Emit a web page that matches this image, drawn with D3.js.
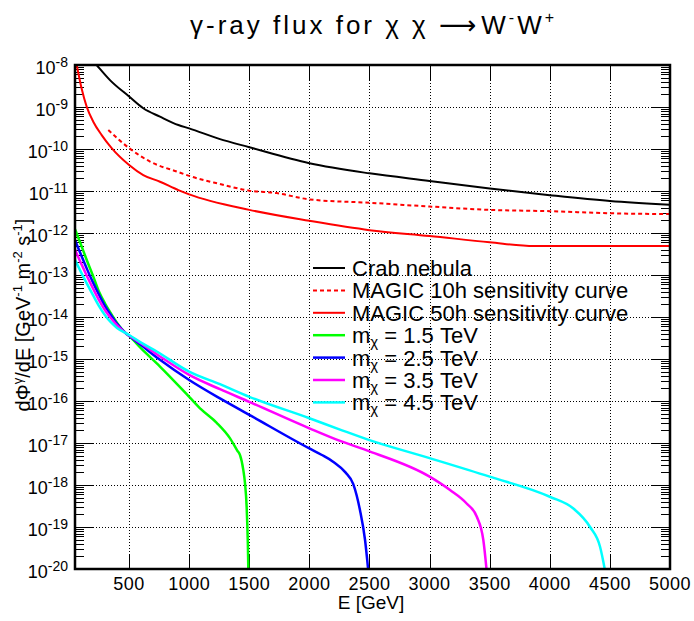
<!DOCTYPE html>
<html>
<head>
<meta charset="utf-8">
<script src="https://cdn.jsdelivr.net/npm/d3@7"></script>
<style>
  body { margin: 0; background: #fff; }
  svg { display: block; font-family: "Liberation Sans", Arial, sans-serif; }
</style>
</head>
<body>
<svg id="chart" width="694" height="621"></svg>
<script>
// energies in GeV, fluxes in GeV^-1 m^-2 s^-1
const crabE = [200, 230, 341, 500, 618, 757, 910, 1000, 1250, 1500, 2000, 2500, 3000, 3500, 4000, 4500, 5000];
const crabF = [1.26e-8, 1.0e-8, 4.37e-9, 1.78e-9, 9.33e-10, 5.89e-10, 3.72e-10, 3.09e-10, 1.74e-10, 1.10e-10,
               4.57e-11, 2.63e-11, 1.74e-11, 1.15e-11, 7.94e-12, 5.75e-12, 4.68e-12];

const magic10E = [327, 500, 674, 910, 1000, 1250, 1500, 1728, 2000, 2500, 3000, 3500, 4000, 4500, 5000];
const magic10F = [2.82e-10, 1.05e-10, 5.01e-11, 2.82e-11, 2.29e-11, 1.48e-11, 1.02e-11, 8.91e-12, 6.31e-12,
                  5.25e-12, 4.27e-12, 3.55e-12, 3.31e-12, 2.95e-12, 2.82e-12];

const magic50E = [55, 64, 105, 147, 202, 272, 355, 500, 618, 757, 910, 1000, 1500, 2000, 2500, 3000, 3500, 3870, 5000];
const magic50F = [1.32e-8, 1.0e-8, 2.75e-9, 1.02e-9, 4.47e-10, 2.14e-10, 1.05e-10, 4.17e-11, 2.40e-11, 1.66e-11,
                  1.05e-11, 8.32e-12, 3.55e-12, 1.95e-12, 1.17e-12, 8.51e-13, 6.03e-13, 4.90e-13, 4.90e-13];

const m15E = [50, 100, 150, 200, 250, 300, 350, 400, 470, 500, 600, 757, 1000, 1100, 1229, 1340, 1400, 1423, 1450,
              1464, 1478, 1488, 1495];
const m15F = [1.23e-12, 5.25e-13, 2.19e-13, 9.55e-14, 3.98e-14, 2.09e-14, 1.20e-14, 7.24e-15, 4.17e-15, 3.55e-15,
              1.78e-15, 6.61e-16, 1.26e-16, 6.31e-17, 3.02e-17, 1.29e-17, 6.61e-18, 5.13e-18, 2.29e-18, 1.12e-18,
              3.02e-19, 3.98e-20, 3.16e-21];

const m25E = [50, 100, 150, 200, 250, 300, 350, 400, 470, 500, 600, 757, 1000, 1256, 1500, 2000, 2100, 2200, 2300,
              2365, 2421, 2463, 2495];
const m25F = [6.76e-13, 3.02e-13, 1.38e-13, 6.61e-14, 3.39e-14, 1.82e-14, 1.10e-14, 6.92e-15, 4.17e-15, 3.55e-15,
              2.14e-15, 9.55e-16, 3.16e-16, 1.15e-16, 4.68e-17, 7.41e-18, 5.25e-18, 3.55e-18, 2.0e-18, 1.05e-18,
              2.51e-19, 4.90e-20, 6.31e-21];

const m35E = [50, 100, 150, 200, 250, 300, 350, 400, 470, 500, 600, 757, 1000, 1256, 1500, 2000, 2255, 2500, 3000,
              3170, 3308, 3392, 3447, 3480];
const m35F = [3.98e-13, 1.91e-13, 9.33e-14, 4.79e-14, 2.51e-14, 1.45e-14, 9.33e-15, 6.31e-15, 4.17e-15, 3.63e-15,
              2.34e-15, 1.15e-15, 4.17e-16, 1.91e-16, 9.55e-17, 2.24e-17, 1.12e-17, 6.31e-18, 1.58e-18, 7.59e-19,
              3.63e-19, 1.78e-19, 4.90e-20, 6.31e-21];

const m45E = [50, 100, 150, 200, 250, 300, 350, 400, 470, 500, 600, 730, 1000, 1256, 1500, 2000, 2255, 2500, 3000,
              3500, 4000, 4196, 4335, 4418, 4470];
const m45F = [2.29e-13, 1.17e-13, 6.17e-14, 3.31e-14, 1.82e-14, 1.10e-14, 7.41e-15, 5.50e-15, 4.17e-15, 3.72e-15,
              2.45e-15, 1.51e-15, 5.01e-16, 2.51e-16, 1.26e-16, 3.89e-17, 2.09e-17, 1.17e-17, 4.37e-18, 1.58e-18,
              5.25e-19, 2.75e-19, 1.0e-19, 3.39e-20, 6.31e-21];

const xTicks = [500, 1000, 1500, 2000, 2500, 3000, 3500, 4000, 4500, 5000];
const yExponents = [-8, -9, -10, -11, -12, -13, -14, -15, -16, -17, -18, -19, -20];

const masses = ["1.5", "2.5", "3.5", "4.5"];

const series = [
    { label: "Crab nebula", E: crabE, F: crabF, color: "#000000", dash: null, width: 2 },
    { label: "MAGIC 10h sensitivity curve", E: magic10E, F: magic10F, color: "#ff0000", dash: "4,3", width: 2 },
    { label: "MAGIC 50h sensitivity curve", E: magic50E, F: magic50F, color: "#ff0000", dash: null, width: 2 },
    { mass: masses[0], E: m15E, F: m15F, color: "#00ff00", dash: null, width: 2.5 },
    { mass: masses[1], E: m25E, F: m25F, color: "#0000ff", dash: null, width: 2.5 },
    { mass: masses[2], E: m35E, F: m35F, color: "#ff00ff", dash: null, width: 2.5 },
    { mass: masses[3], E: m45E, F: m45F, color: "#00ffff", dash: null, width: 2.5 }
];

const svg = d3.select("#chart");
const pLeft = 75, pRight = 670, pTop = 65, pBottom = 569;

const x = d3.scaleLinear().domain([50, 5000]).range([pLeft, pRight]);
const y = d3.scaleLog().domain([1e-20, 1e-8]).range([pBottom, pTop]);

svg.append("defs").append("clipPath").attr("id", "plotClip")
    .append("rect")
    .attr("x", pLeft).attr("y", pTop)
    .attr("width", pRight - pLeft).attr("height", pBottom - pTop);

// grid
let grid = svg.append("g").attr("stroke", "#000").attr("stroke-width", 1)
    .attr("stroke-dasharray", "1,2").attr("shape-rendering", "crispEdges");
grid.selectAll(".gx").data(xTicks.slice(0, -1)).enter().append("line")
    .attr("x1", d => Math.round(x(d)) + 0.5).attr("x2", d => Math.round(x(d)) + 0.5)
    .attr("y1", pTop).attr("y2", pBottom);
grid.selectAll(".gy").data(yExponents.slice(1, -1)).enter().append("line")
    .attr("x1", pLeft).attr("x2", pRight)
    .attr("y1", d => Math.round(y(Math.pow(10, d))) + 0.5)
    .attr("y2", d => Math.round(y(Math.pow(10, d))) + 0.5);

// ticks (inside the frame, on all four sides)
let ticks = svg.append("g").attr("stroke", "#000").attr("stroke-width", 1).attr("shape-rendering", "crispEdges");
xTicks.forEach(t => {
    let px = Math.round(x(t)) + 0.5;
    ticks.append("line").attr("x1", px).attr("x2", px).attr("y1", pBottom).attr("y2", pBottom - 15);
    ticks.append("line").attr("x1", px).attr("x2", px).attr("y1", pTop).attr("y2", pTop + 15);
});
let yMinor = [];
for (let e = -20; e < -8; e++) {
    for (let m = 2; m <= 9; m++) yMinor.push(m * Math.pow(10, e));
}
yExponents.forEach(e => {
    let py = Math.round(y(Math.pow(10, e))) + 0.5;
    ticks.append("line").attr("x1", pLeft).attr("x2", pLeft + 18).attr("y1", py).attr("y2", py);
    ticks.append("line").attr("x1", pRight).attr("x2", pRight - 18).attr("y1", py).attr("y2", py);
});
yMinor.forEach(v => {
    let py = Math.round(y(v)) + 0.5;
    ticks.append("line").attr("x1", pLeft).attr("x2", pLeft + 9).attr("y1", py).attr("y2", py);
    ticks.append("line").attr("x1", pRight).attr("x2", pRight - 9).attr("y1", py).attr("y2", py);
});

// curves
let line = d3.line()
    .x(d => x(d[0]))
    .y(d => y(d[1]))
    .curve(d3.curveMonotoneX);

let curves = svg.append("g").attr("clip-path", "url(#plotClip)");
series.forEach(s => {
    let pts = s.E.map((e, i) => [e, s.F[i]]);
    curves.append("path")
        .attr("d", line(pts))
        .attr("fill", "none")
        .attr("stroke", s.color)
        .attr("stroke-width", s.width)
        .attr("stroke-dasharray", s.dash);
});

// frame
svg.append("rect")
    .attr("x", pLeft).attr("y", pTop)
    .attr("width", pRight - pLeft).attr("height", pBottom - pTop)
    .attr("fill", "none").attr("stroke", "#000").attr("stroke-width", 2.5);

// x tick labels
svg.append("g").selectAll("text").data(xTicks).enter().append("text")
    .attr("x", d => x(d)).attr("y", 590)
    .attr("text-anchor", "middle").attr("font-size", 18).attr("letter-spacing", 0.5)
    .text(d => d);

// y tick labels 10^n
let yl = svg.append("g").selectAll("text").data(yExponents).enter().append("text")
    .attr("x", 68).attr("y", d => y(Math.pow(10, d)) + 9)
    .attr("text-anchor", "end").attr("font-size", 18);
yl.append("tspan").text("10");
yl.append("tspan").attr("font-size", 14).attr("dy", -7).text(d => "-" + (-d));

// axis titles
svg.append("text").attr("x", 371).attr("y", 609)
    .attr("text-anchor", "middle").attr("font-size", 19).text("E [GeV]");

let yt = svg.append("text").attr("transform", "translate(30,315) rotate(-90)")
    .attr("text-anchor", "middle").attr("font-size", 20);
yt.append("tspan").text("dΦ");
yt.append("tspan").attr("font-size", 13).attr("dy", -8).text("γ");
yt.append("tspan").attr("dy", 8).text("/dE [GeV");
yt.append("tspan").attr("font-size", 13).attr("dy", -8).text("-1");
yt.append("tspan").attr("dy", 8).text(" m");
yt.append("tspan").attr("font-size", 13).attr("dy", -8).text("-2");
yt.append("tspan").attr("dy", 8).text(" s");
yt.append("tspan").attr("font-size", 13).attr("dy", -8).text("-1");
yt.append("tspan").attr("dy", 8).text("]");

// title
let title = svg.append("text").attr("x", 190).attr("y", 34)
    .attr("font-size", 26).attr("letter-spacing", 3);
title.append("tspan").text("γ-ray flux for χ χ ");
title.append("tspan").attr("font-family", "DejaVu Sans").attr("letter-spacing", 5).text("⟶");
title.append("tspan").text("W");
title.append("tspan").attr("font-size", 16).attr("dy", -11).text("-");
title.append("tspan").attr("dy", 11).text("W");
title.append("tspan").attr("font-size", 16).attr("dy", -11).text("+");

// legend (no box)
let legend = svg.append("g");
series.forEach((s, i) => {
    let cy = 268 + i * 22.4;
    legend.append("line")
        .attr("x1", 313).attr("x2", 345).attr("y1", cy).attr("y2", cy)
        .attr("stroke", s.color).attr("stroke-width", s.width)
        .attr("stroke-dasharray", s.dash);
    let t = legend.append("text").attr("x", 352).attr("y", cy + 8).attr("font-size", 22);
    if (s.mass) {
        t.append("tspan").text("m");
        t.append("tspan").attr("font-size", 15).attr("dy", 4).text("χ");
        t.append("tspan").attr("dy", -4).text(" = " + s.mass + " TeV");
    } else {
        t.text(s.label);
    }
});
</script>
</body>
</html>
